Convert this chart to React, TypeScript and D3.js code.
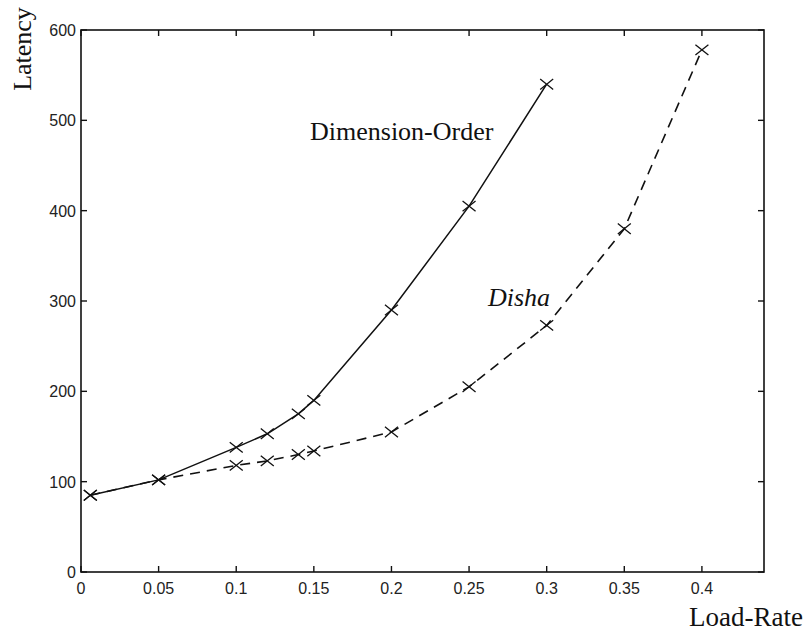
import React, { useEffect, useRef } from 'react';
import * as d3 from 'd3';

// values
const loadDim = [0.006, 0.05, 0.1, 0.12, 0.14, 0.15, 0.2, 0.25, 0.3];
const latencyDim = [85, 102, 138, 153, 175, 190, 290, 405, 540];
const loadDisha = [0.006, 0.05, 0.1, 0.12, 0.14, 0.15, 0.2, 0.25, 0.3, 0.35, 0.4];
const latencyDisha = [85, 102, 118, 123, 130, 134, 155, 205, 273, 380, 578];
const xTicks = [0, 0.05, 0.1, 0.15, 0.2, 0.25, 0.3, 0.35, 0.4];
const yTicks = [0, 100, 200, 300, 400, 500, 600];

const W = 807;
const H = 634;
const margin = { left: 81, right: 43, top: 30, bottom: 62 };

export default function App() {
  const ref = useRef<SVGSVGElement>(null);

  useEffect(() => {
    const svg = d3.select(ref.current);
    svg.selectAll('*').remove();

    const x = d3.scaleLinear().domain([0, 0.44]).range([margin.left, W - margin.right]);
    const y = d3.scaleLinear().domain([0, 600]).range([H - margin.bottom, margin.top]);

    const tickFont = '"Liberation Sans", Arial, sans-serif';
    const serif = '"Liberation Serif", "Times New Roman", serif';

    // frame
    svg.append('rect')
      .attr('x', x(0)).attr('y', y(600))
      .attr('width', x(0.44) - x(0)).attr('height', y(0) - y(600))
      .attr('fill', 'none').attr('stroke', '#111').attr('stroke-width', 1.6);

    const tickLen = 6;
    const g = svg.append('g').attr('stroke', '#111').attr('stroke-width', 1.4);
    xTicks.forEach(t => {
      g.append('line').attr('x1', x(t)).attr('x2', x(t)).attr('y1', y(0)).attr('y2', y(0) - tickLen);
      g.append('line').attr('x1', x(t)).attr('x2', x(t)).attr('y1', y(600)).attr('y2', y(600) + tickLen);
    });
    yTicks.forEach(t => {
      g.append('line').attr('x1', x(0)).attr('x2', x(0) + tickLen).attr('y1', y(t)).attr('y2', y(t));
      g.append('line').attr('x1', x(0.44)).attr('x2', x(0.44) - tickLen).attr('y1', y(t)).attr('y2', y(t));
    });

    svg.selectAll('.xt').data(xTicks).enter().append('text')
      .attr('x', d => x(d)).attr('y', y(0) + 22)
      .attr('text-anchor', 'middle')
      .attr('font-family', tickFont).attr('font-size', 16).attr('fill', '#222')
      .text(d => String(d));

    svg.selectAll('.yt').data(yTicks).enter().append('text')
      .attr('x', x(0) - 5).attr('y', d => y(d) + 6)
      .attr('text-anchor', 'end')
      .attr('font-family', tickFont).attr('font-size', 16).attr('fill', '#222')
      .text(d => String(d));

    const line = d3.line<[number, number]>().x(d => x(d[0])).y(d => y(d[1]));
    const dimPts: [number, number][] = loadDim.map((v, i) => [v, latencyDim[i]]);
    const dishaPts: [number, number][] = loadDisha.map((v, i) => [v, latencyDisha[i]]);

    svg.append('path').attr('d', line(dimPts)!)
      .attr('fill', 'none').attr('stroke', '#111').attr('stroke-width', 1.5);
    svg.append('path').attr('d', line(dishaPts)!)
      .attr('fill', 'none').attr('stroke', '#111').attr('stroke-width', 1.6)
      .attr('stroke-dasharray', '10 7');

    const s = 6.5;
    [...dimPts, ...dishaPts].forEach(([a, b]) => {
      const cx = x(a), cy = y(b);
      svg.append('path')
        .attr('d', `M${cx - s},${cy - s * 0.8}L${cx + s},${cy + s * 0.8}M${cx - s},${cy + s * 0.8}L${cx + s},${cy - s * 0.8}`)
        .attr('stroke', '#111').attr('stroke-width', 1.3).attr('fill', 'none');
    });

    svg.append('text').attr('x', 310).attr('y', 140)
      .attr('font-family', serif).attr('font-size', 26).attr('fill', '#111')
      .text('Dimension-Order');
    svg.append('text').attr('x', 488).attr('y', 306)
      .attr('font-family', serif).attr('font-size', 26).attr('font-style', 'italic').attr('fill', '#111')
      .text('Disha');
    svg.append('text').attr('transform', 'translate(31,49) rotate(-90)')
      .attr('text-anchor', 'middle')
      .attr('font-family', serif).attr('font-size', 26).attr('fill', '#111')
      .text('Latency');
    svg.append('text').attr('x', 803).attr('y', 626)
      .attr('text-anchor', 'end')
      .attr('font-family', serif).attr('font-size', 27).attr('fill', '#111')
      .text('Load-Rate');
  }, []);

  return (
    <svg ref={ref} width={W} height={H}
      style={{ position: 'absolute', left: 0, top: 0, background: '#fff' }} />
  );
}
